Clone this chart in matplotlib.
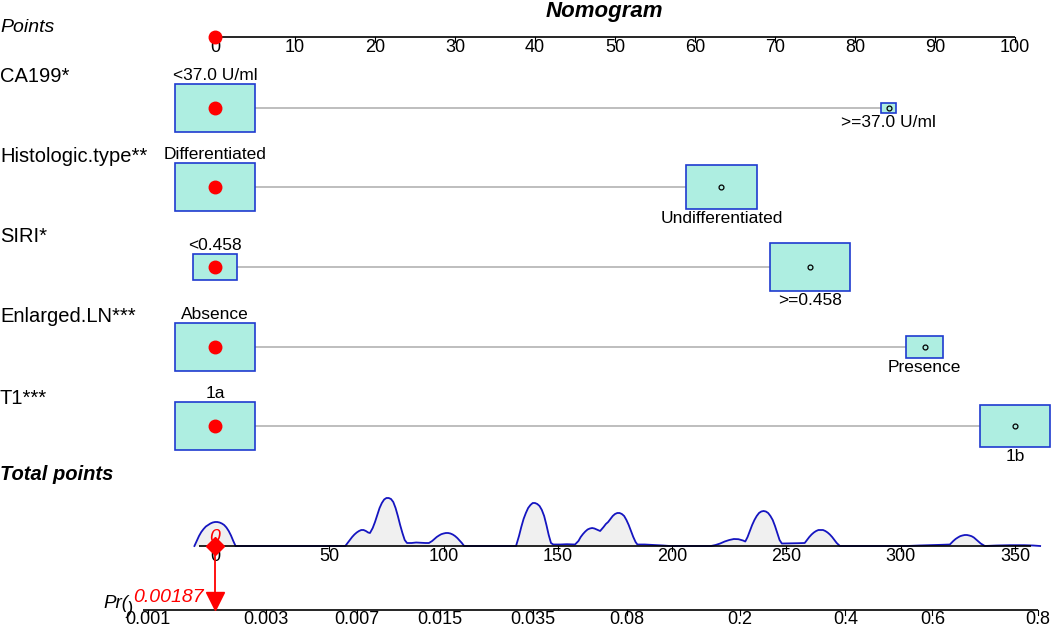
import numpy as np
import matplotlib
matplotlib.use("Agg")
import matplotlib.pyplot as plt
from matplotlib.patches import Rectangle

plt.rcParams['font.family'] = ['Liberation Sans', 'DejaVu Sans']

# ---------------- data ----------------
title = "Nomogram"
variables = ["CA199*", "Histologic.type**", "SIRI*", "Enlarged.LN***", "T1***"]
levels = [["<37.0 U/ml", ">=37.0 U/ml"],
          ["Differentiated", "Undifferentiated"],
          ["<0.458", ">=0.458"],
          ["Absence", "Presence"],
          ["1a", "1b"]]
level_points = [[0, 84.2], [0, 63.3], [0, 74.4], [0, 88.7], [0, 100.0]]
level_freq = [[0.963, 0.037], [0.554, 0.446], [0.24, 0.76], [0.83, 0.17], [0.56, 0.44]]

points_ticks = [0, 10, 20, 30, 40, 50, 60, 70, 80, 90, 100]
total_ticks = [0, 50, 100, 150, 200, 250, 300, 350]
prob_ticks = [0.001, 0.003, 0.007, 0.015, 0.035, 0.08, 0.2, 0.4, 0.6, 0.8]
prob_labels = ["0.001", "0.003", "0.007", "0.015", "0.035", "0.08", "0.2", "0.4", "0.6", "0.8"]

lp_intercept = -6.28   # logit of risk at 0 total points
lp_slope = 0.0213      # logit per total point

obs_total = 0
obs_prob_label = "0.00187"

# density of total points (arbitrary units)
dens_tp = [-9, -8, -7, -6, -5, -4, -3, -2, -1, 0, 1, 2, 3, 4, 5, 6, 7, 8, 9,
           57, 58, 59, 60, 61, 62, 63, 64, 65, 66, 67, 67.8, 69, 70, 71, 72, 73, 74, 75, 76, 77, 78,
           79, 80, 81, 82, 83, 84, 86, 88, 90, 92, 93.6, 95, 96, 97, 98, 99, 100, 101, 102, 103, 104,
           105, 106, 107, 108, 109,
           131.7, 133, 134, 135, 136, 137, 138, 139, 140, 141, 142, 143, 144, 145, 146, 147, 148,
           151, 154, 157.5, 159, 160, 161, 162, 163, 164, 165, 166, 167, 168.5, 170, 171, 172, 173,
           174, 175, 176, 177, 178, 179, 180, 181, 182, 183, 184, 184.8, 188, 192, 196, 199,
           217, 219, 221, 223, 225, 227, 229, 231, 232, 233, 234, 235, 236, 237, 238, 239, 240, 241,
           242, 243, 244, 245, 246, 247, 248, 251, 255, 258, 259, 260, 261, 262, 263, 264, 265, 266,
           267, 268, 269, 270, 271, 272, 273.4,
           303, 308, 313, 318, 321.5, 323, 324, 325, 326, 327, 328, 329, 330, 331, 332, 333, 334,
           335, 336.8, 342, 348, 354, 358, 361]
dens_val = [0, 5, 10, 14, 17, 19.5, 21, 22.5, 23.5, 24, 24, 23.5, 22.5, 21, 18.5, 15, 10.5, 5, 0,
            0, 3, 6, 9, 11.5, 13.5, 15, 16, 16, 15, 13.5, 13, 18, 24, 31, 38, 43, 46.5, 48, 48, 47, 44,
            38, 30, 21, 13, 6, 3, 3, 3.5, 3.2, 3, 3, 5, 7, 9, 10.5, 11.8, 12.5, 13, 13, 12.5, 11.5,
            10, 8, 5.5, 3, 0,
            0, 10, 19, 27, 33, 38, 41, 43, 43, 42, 40, 36, 30, 21, 11, 3, 1.5,
            1.5, 1.8, 1.5, 5, 9, 12, 14.5, 16.5, 17.5, 18, 17.5, 16.5, 15, 19, 22, 24, 27,
            30, 32, 33, 33, 32, 30, 26, 21, 15, 9, 4, 1.5, 1.5, 1, 0.5, 0,
            0, 1, 2.5, 4.5, 6, 7, 6.8, 5.5, 4.5, 9, 15, 21, 26, 30, 33, 34.5, 35, 34.5,
            33, 30, 26, 20, 13, 6, 2.5, 2.6, 2.8, 3, 6, 9, 11.5, 13.5, 15, 16, 16, 16,
            15, 13.5, 11.5, 9, 6, 3, 0,
            0, 0.5, 0.8, 1.2, 1.5, 5, 7, 8.5, 9.8, 10.5, 11, 11, 10.5, 9.8, 8.5, 6.5, 4.5,
            2.5, 0, 0.5, 0.8, 0.8, 0.5, 0]

# ---------------- layout ----------------
W, H = 1053, 627
fig = plt.figure(figsize=(W / 100, H / 100), dpi=100)
ax = fig.add_axes([0, 0, 1, 1])
px = 8.0                    # pixels per point
x0 = 215.0                  # pixel of 0 points
ax.set_xlim(-x0 / px, (W - x0) / px)
ax.set_ylim(H, 0)
ax.axis('off')

def xl(pxv):                # pixel x -> axis x (text placed at the left margin)
    return (pxv - x0) / px

tp_to_pts = 100.0 / 350.0
def tp_x(tp):
    return np.asarray(tp, dtype=float) * tp_to_pts

def prob_x(p):
    p = np.asarray(p, dtype=float)
    return tp_x((np.log(p / (1 - p)) - lp_intercept) / lp_slope)

label_fs = 14.5
tick_fs = 13
cat_fs = 12.5
red = '#FF0000'
box_fc = '#AEEEE1'
box_ec = '#1F3BD0'

# title
ax.text((604 - x0) / px, 12, title, ha='center', va='center', fontsize=16,
        fontweight='bold', fontstyle='italic')

# Points axis
y_pts = 37
ax.text(xl(0), 28, "Points", ha='left', va='center', fontsize=label_fs - 0.5, fontstyle='italic')
ax.plot([points_ticks[0], points_ticks[-1]], [y_pts, y_pts], color='black', lw=1.2,
        solid_capstyle='butt')
for t in points_ticks:
    ax.plot([t, t], [y_pts, y_pts + 5], color='black', lw=0.8)
    ax.text(t, y_pts + 2, str(t), ha='center', va='top', fontsize=tick_fs)
ax.plot([0], [y_pts], 'o', color=red, ms=9, zorder=5)

# variable rows
row_y = [108, 187, 267, 347, 426]
name_y = [76, 157, 237, 317, 398]
box_w_max = 10.0   # points
box_h_max = 48.0   # px
for i, var in enumerate(variables):
    yc = row_y[i]
    ax.text(xl(0), name_y[i], var, ha='left', va='center', fontsize=label_fs)
    pts = level_points[i]
    fr = level_freq[i]
    fmax = max(fr)
    ax.plot([min(pts), max(pts)], [yc, yc], color='#BEBEBE', lw=1.4, zorder=1)
    for j, (p, f) in enumerate(zip(pts, fr)):
        s = np.sqrt(f / fmax)
        w = box_w_max * s
        h = box_h_max * s
        ax.add_patch(Rectangle((p - w / 2, yc - h / 2), w, h, facecolor=box_fc,
                               edgecolor=box_ec, lw=1.2, zorder=2))
        if j == 0:
            ax.text(p, yc - h / 2 - 1, levels[i][j], ha='center', va='bottom', fontsize=cat_fs)
            ax.plot([p], [yc], 'o', color=red, ms=9, zorder=4)
        else:
            ax.text(p, yc + h / 2 + 2, levels[i][j], ha='center', va='top', fontsize=cat_fs)
            ax.plot([p], [yc], 'o', mfc='none', mec='black', ms=3.5, mew=0.9, zorder=4)

# Total points
ax.text(xl(0), 475, "Total points", ha='left', va='center', fontsize=label_fs,
        fontweight='bold', fontstyle='italic')
y_tot = 546
dens_scale = 1.0
dx = tp_x(dens_tp)
dy = y_tot - np.asarray(dens_val, dtype=float) * dens_scale
ax.fill_between(dx, dy, y_tot, color='#F0F0F0', lw=0, zorder=1)
ax.plot(dx, dy, color='#1515C0', lw=1.3, zorder=2)
ax.plot(tp_x([-7, 357]), [y_tot, y_tot], color='black', lw=1.2, zorder=3, solid_capstyle='butt')
for t in total_ticks:
    xt = tp_x(t)
    ax.plot([xt, xt], [y_tot, y_tot + 5], color='black', lw=0.8, zorder=3)
    ax.text(xt, y_tot + 2, str(t), ha='center', va='top', fontsize=tick_fs, zorder=3)

# Probability axis
y_pr = 610
ax.text(xl(103), 603, "Pr(", ha='left', va='center', fontsize=label_fs - 1, fontstyle='italic')
ax.text(xl(127), 609, ")", ha='left', va='center', fontsize=label_fs - 1, fontstyle='italic')
pxs = prob_x(prob_ticks)
ax.plot([pxs[0] - 0.6, pxs[-1] + 0.1], [y_pr, y_pr], color='black', lw=1.2,
        solid_capstyle='butt')
for xt, lab in zip(pxs, prob_labels):
    ax.plot([xt, xt], [y_pr, y_pr + 5], color='black', lw=0.8)
    ax.text(xt, y_pr + 1, lab, ha='center', va='top', fontsize=tick_fs)

# observation marker
xo = tp_x(obs_total)
ax.plot([xo, xo], [y_tot, y_pr - 14], color=red, lw=1.3, zorder=6)
ax.plot([xo], [y_tot], marker='D', color=red, ms=9, zorder=7)
ax.plot([xo], [y_pr - 9], marker='v', color=red, ms=13, zorder=7)
ax.text(xo, 537, str(obs_total), ha='center', va='center', fontsize=tick_fs + 1,
        fontstyle='italic', color=red, zorder=8)
ax.text(xl(204), 597, obs_prob_label, ha='right', va='center',
        fontsize=tick_fs + 1, fontstyle='italic', color=red, zorder=8)

fig.savefig("out.png", dpi=100)
